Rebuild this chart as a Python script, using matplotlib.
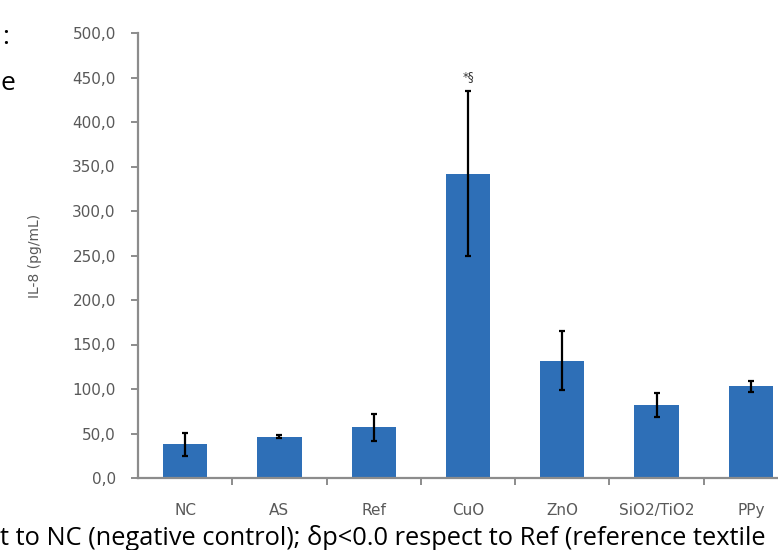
import matplotlib
matplotlib.use("Agg")
import matplotlib.pyplot as plt
import numpy as np

# Data
categories = ["NC", "AS", "Ref", "CuO", "ZnO", "SiO2/TiO2", "PPy"]
il8_means = [38.0, 46.5, 57.0, 342.0, 132.0, 82.0, 103.0]
il8_errors = [13.0, 1.5, 15.0, 93.0, 33.0, 13.0, 6.0]
y_ticks = [0, 50, 100, 150, 200, 250, 300, 350, 400, 450, 500]
marker_text = {3: "*§"}

bar_color = "#2e6fb7"
axis_gray = "#8c8c8c"
text_gray = "#595959"

fig = plt.figure(figsize=(7.78, 5.5), dpi=100)
ax = fig.add_axes([138 / 778, 1 - 478 / 550, 660 / 778, 445 / 550])

x = np.arange(len(categories))
ax.bar(x, il8_means, width=0.47, color=bar_color, zorder=2)
ax.errorbar(x, il8_means, yerr=il8_errors, fmt="none", ecolor="black",
            elinewidth=1.6, capsize=2, capthick=1.6, zorder=3)

for i, label in marker_text.items():
    ax.text(x[i], il8_means[i] + il8_errors[i] + 9, label, ha="center",
            va="bottom", fontsize=8.5, color="#333333")

# axes styling
ax.set_xlim(-0.5, len(categories) - 0.5)
ax.set_ylim(0, 500)
ax.set_yticks(y_ticks)
ax.set_yticklabels([f"{v:.1f}".replace(".", ",") for v in y_ticks])
ax.set_xticks(x)
ax.set_xticklabels(categories)
ax.set_xticks(np.arange(0.5, len(categories) - 0.5), minor=True)

for side in ["top", "right"]:
    ax.spines[side].set_visible(False)
for side in ["left", "bottom"]:
    ax.spines[side].set_color(axis_gray)
    ax.spines[side].set_linewidth(1.6)

ax.tick_params(axis="y", direction="out", length=5, width=1.4, color=axis_gray,
               labelsize=11, labelcolor=text_gray, pad=11)
ax.tick_params(axis="x", which="major", length=0, labelsize=11,
               labelcolor=text_gray, pad=18)
ax.tick_params(axis="x", which="minor", direction="out", length=5, width=1.4,
               color=axis_gray)

ax.set_ylabel("IL-8 (pg/mL)", fontsize=10, color=text_gray, labelpad=22)

# fragments of surrounding page text
fig.text(0.0, 1 - 545 / 550,
         "t to NC (negative control); δp<0.0 respect to Ref (reference textile",
         fontsize=18.3, family="Open Sans", color="black", ha="left", va="baseline")
fig.text(2 / 778, 1 - 44 / 550, ":", fontsize=19, family="Open Sans",
         color="black", ha="left", va="baseline")
fig.text(0.0, 1 - 90 / 550, "e", fontsize=19, family="Open Sans",
         color="black", ha="left", va="baseline")

fig.savefig("out.png", dpi=100)
